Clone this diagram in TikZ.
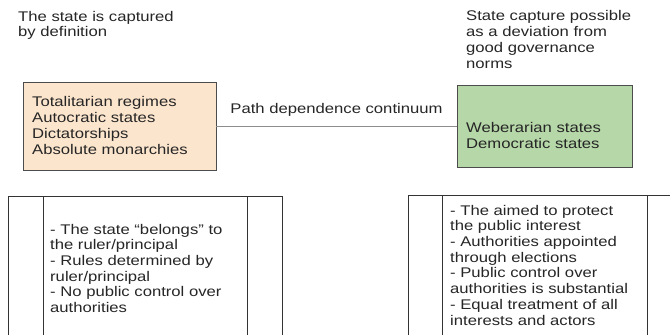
\documentclass[tikz,border=0pt]{standalone}
\usepackage{fontspec}
\setmainfont{Liberation Sans}[FakeStretch=1.19]
\usetikzlibrary{positioning}
\definecolor{peach}{HTML}{FCE5CD}
\definecolor{sage}{HTML}{B6D7A8}

\begin{document}
\begin{tikzpicture}[x=1pt, y=-1pt,
    txt/.style={inner sep=0pt, align=left, anchor=base west, text=black!85,
      font=\fontsize{14}{15.7}\selectfont},
    statebox/.style={draw=black!70, line width=0.9pt, inner sep=0pt,
      minimum height=#1},
    cell/.style={draw=black!80, line width=0.8pt}]
        \useasboundingbox[fill=white] (0,0) rectangle (670,335);
        \node[txt] (capt) at (18,36.7) {The state is captured\\by definition};
        \node[txt] (dev) at (466,68) {State capture possible\\as a deviation from\\good governance\\norms};
        \node[statebox=88pt, minimum width=193pt, fill=peach] (tot) at (119.5,126) {};
        \node[statebox=82pt, minimum width=175pt, fill=sage] (web) at (544.5,126) {};
        \node[txt] (totl) at (32,154) {Totalitarian regimes\\Autocratic states\\Dictatorships\\Absolute monarchies};
        \node[txt] (webl) at (466,148) {Weberarian states\\Democratic states};
        \draw[black!45, line width=0.9pt] (tot) -- (web) node[midway, above=13pt, txt, anchor=base] (path) {Path dependence continuum};
        \draw[cell] (8,196) rectangle (282,345);
        \draw[cell] (43,196) -- (43,345);
        \draw[cell] (247,196) -- (247,345);
        \draw[cell] (408,195) rectangle (690,345);
        \draw[cell] (442,195) -- (442,345);
        \draw[cell] (647,195) -- (647,345);
        \node[txt] (capl) at (50,312.5) {- The state “belongs” to\\the ruler/principal\\- Rules determined by\\ruler/principal\\- No public control over\\authorities};
        \node[txt] (devl) at (450,325) {- The aimed to protect\\the public interest\\- Authorities appointed\\through elections\\- Public control over\\authorities is substantial\\- Equal treatment of all\\interests and actors};
      \end{tikzpicture}
\end{document}
